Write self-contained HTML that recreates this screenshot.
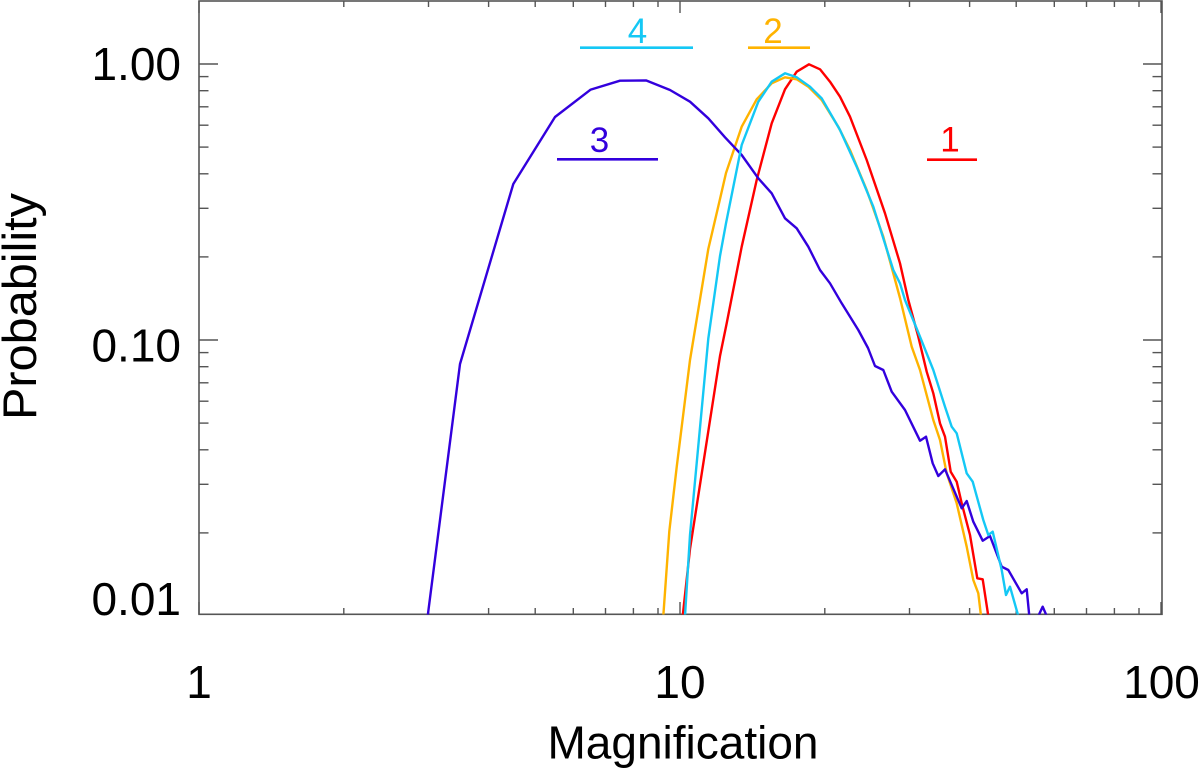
<!DOCTYPE html>
<html>
<head>
<meta charset="utf-8">
<style>
html,body{margin:0;padding:0;background:#fff;}
svg{display:block;}
text{font-family:"Liberation Sans",Arial,Helvetica,sans-serif;fill:#000;}
</style>
</head>
<body>
<svg width="1200" height="781" viewBox="0 0 1200 781" xmlns="http://www.w3.org/2000/svg">
<defs>
<clipPath id="pa"><rect x="199" y="1" width="963" height="613.5"/></clipPath>
</defs>
<rect width="1200" height="781" fill="#fff"/>

<!-- axes box -->
<g stroke="#555" stroke-width="1.6" fill="none">
<rect x="199" y="1" width="963" height="613.3"/>
</g>

<!-- x ticks (bottom and top) -->
<g stroke="#555" stroke-width="1.4" id="xt">
<!-- majors -->
<line x1="199" y1="614" x2="199" y2="602"/><line x1="680" y1="614" x2="680" y2="602"/><line x1="1161" y1="614" x2="1161" y2="602"/>
<line x1="199" y1="1" x2="199" y2="13"/><line x1="680" y1="1" x2="680" y2="13"/><line x1="1161" y1="1" x2="1161" y2="13"/>
<!-- minors decade 1 -->
<line x1="343.8" y1="614" x2="343.8" y2="608"/><line x1="428.5" y1="614" x2="428.5" y2="608"/><line x1="488.6" y1="614" x2="488.6" y2="608"/><line x1="535.2" y1="614" x2="535.2" y2="608"/><line x1="573.3" y1="614" x2="573.3" y2="608"/><line x1="605.5" y1="614" x2="605.5" y2="608"/><line x1="633.4" y1="614" x2="633.4" y2="608"/><line x1="658" y1="614" x2="658" y2="608"/>
<line x1="824.8" y1="614" x2="824.8" y2="608"/><line x1="909.5" y1="614" x2="909.5" y2="608"/><line x1="969.6" y1="614" x2="969.6" y2="608"/><line x1="1016.2" y1="614" x2="1016.2" y2="608"/><line x1="1054.3" y1="614" x2="1054.3" y2="608"/><line x1="1086.5" y1="614" x2="1086.5" y2="608"/><line x1="1114.4" y1="614" x2="1114.4" y2="608"/><line x1="1139" y1="614" x2="1139" y2="608"/>
<line x1="343.8" y1="1" x2="343.8" y2="7"/><line x1="428.5" y1="1" x2="428.5" y2="7"/><line x1="488.6" y1="1" x2="488.6" y2="7"/><line x1="535.2" y1="1" x2="535.2" y2="7"/><line x1="573.3" y1="1" x2="573.3" y2="7"/><line x1="605.5" y1="1" x2="605.5" y2="7"/><line x1="633.4" y1="1" x2="633.4" y2="7"/><line x1="658" y1="1" x2="658" y2="7"/>
<line x1="824.8" y1="1" x2="824.8" y2="7"/><line x1="909.5" y1="1" x2="909.5" y2="7"/><line x1="969.6" y1="1" x2="969.6" y2="7"/><line x1="1016.2" y1="1" x2="1016.2" y2="7"/><line x1="1054.3" y1="1" x2="1054.3" y2="7"/><line x1="1086.5" y1="1" x2="1086.5" y2="7"/><line x1="1114.4" y1="1" x2="1114.4" y2="7"/><line x1="1139" y1="1" x2="1139" y2="7"/>
</g>

<!-- y ticks -->
<g stroke="#555" stroke-width="1.4">
<line x1="199" y1="64" x2="218" y2="64"/><line x1="199" y1="340" x2="218" y2="340"/>
<line x1="1162" y1="64" x2="1143" y2="64"/><line x1="1162" y1="340" x2="1143" y2="340"/>
<!-- minors 0.2-0.9 -->
<line x1="199" y1="76.6" x2="208.5" y2="76.6"/><line x1="199" y1="90.7" x2="208.5" y2="90.7"/><line x1="199" y1="106.8" x2="208.5" y2="106.8"/><line x1="199" y1="125.2" x2="208.5" y2="125.2"/><line x1="199" y1="147.1" x2="208.5" y2="147.1"/><line x1="199" y1="173.8" x2="208.5" y2="173.8"/><line x1="199" y1="208.3" x2="208.5" y2="208.3"/><line x1="199" y1="256.9" x2="208.5" y2="256.9"/>
<line x1="199" y1="352.6" x2="208.5" y2="352.6"/><line x1="199" y1="366.7" x2="208.5" y2="366.7"/><line x1="199" y1="382.8" x2="208.5" y2="382.8"/><line x1="199" y1="401.2" x2="208.5" y2="401.2"/><line x1="199" y1="423.1" x2="208.5" y2="423.1"/><line x1="199" y1="449.8" x2="208.5" y2="449.8"/><line x1="199" y1="484.3" x2="208.5" y2="484.3"/><line x1="199" y1="532.9" x2="208.5" y2="532.9"/>
<line x1="1162" y1="76.6" x2="1152.5" y2="76.6"/><line x1="1162" y1="90.7" x2="1152.5" y2="90.7"/><line x1="1162" y1="106.8" x2="1152.5" y2="106.8"/><line x1="1162" y1="125.2" x2="1152.5" y2="125.2"/><line x1="1162" y1="147.1" x2="1152.5" y2="147.1"/><line x1="1162" y1="173.8" x2="1152.5" y2="173.8"/><line x1="1162" y1="208.3" x2="1152.5" y2="208.3"/><line x1="1162" y1="256.9" x2="1152.5" y2="256.9"/>
<line x1="1162" y1="352.6" x2="1152.5" y2="352.6"/><line x1="1162" y1="366.7" x2="1152.5" y2="366.7"/><line x1="1162" y1="382.8" x2="1152.5" y2="382.8"/><line x1="1162" y1="401.2" x2="1152.5" y2="401.2"/><line x1="1162" y1="423.1" x2="1152.5" y2="423.1"/><line x1="1162" y1="449.8" x2="1152.5" y2="449.8"/><line x1="1162" y1="484.3" x2="1152.5" y2="484.3"/><line x1="1162" y1="532.9" x2="1152.5" y2="532.9"/>
</g>

<!-- curves -->
<g clip-path="url(#pa)" fill="none" stroke-width="2.4" stroke-linejoin="round">
<polyline stroke="#ff0000" points="682.7,616 690,549 720,356 726.7,323.3 741.7,246.7 756.7,180 771.7,123.3 785,89.3 796.7,71.7 809,64.3 820,69.3 830,81.7 840,96.7 850,116.7 866.7,160 885,213.3 900,263.3 908.3,300 918.3,336.7 926.7,371.7 933.3,393.3 940,423.3 945,436.7 950.7,471.7 956.7,481.7 961.7,503.3 970,535 977.3,578.3 982.7,579.3 988.3,616"/>
<polyline stroke="#ffb300" points="663.3,616 669.3,531.4 676.7,467 690,360 708.3,249 720,199 726,173 741.7,126.7 756.7,99.3 771.7,83.3 785,77.3 796.7,79.3 808.3,86.7 821.7,100 838.3,126.7 850,150 866.7,190 883.3,236.7 900,298 911.7,346.7 920,370 933.3,420 940,440 946.7,473.3 956.7,503.3 966.7,546.7 973.3,580 978.3,593.3 981,616"/>
<polyline stroke="#3300dd" points="427.7,616 460,364 513.3,184 555,117 590.7,89.6 620,80.7 646,80.4 670,90 690,101.7 708.3,118.3 725,137.3 741.7,155 758.3,178.3 771.7,193.3 785,218.3 796.7,228.3 808.3,246.7 820,270 830,283.3 841.7,303.3 858.3,330 868,348 875,366 883.3,370 891.7,391.7 905,410 920,440.7 926,436.7 932.7,463.3 938.3,476 945,469.3 961.7,508.3 966.7,501 973.3,521.7 982.7,540.7 990,536 1001.7,566.7 1008.3,570 1021.7,593.3 1026.7,589.3 1029.3,616"/>
<polyline stroke="#3300dd" points="1038.3,616 1042.7,606.7 1046.7,616"/>
<polyline stroke="#14c8f5" points="685,616 690,535 708.3,338.6 720,256 726,223.3 741.7,145 758.3,101.7 771.7,81.7 785,73.3 796.7,77.3 810,86.7 821.7,98.3 840,130 856.7,166.7 873.3,206.7 893.3,270 900,283.3 905,300 920,336.7 933.3,370 945,406.7 951.7,426.7 956.7,433.3 966.7,473.3 972.7,481.7 983.3,520 988.3,535 992.7,531.7 1001.7,570 1006,595 1010,586.7 1018.3,616"/>
</g>

<!-- curve labels -->
<g stroke-width="2.6">
<line x1="580" y1="47.7" x2="693" y2="47.7" stroke="#14c8f5"/>
<line x1="748" y1="47.7" x2="810" y2="47.7" stroke="#ffb300"/>
<line x1="557" y1="159.3" x2="658" y2="159.3" stroke="#3300dd"/>
<line x1="927" y1="159.7" x2="977" y2="159.7" stroke="#ff0000"/>
</g>
<text x="637.5" y="43" font-size="35" text-anchor="middle" style="fill:#14c8f5">4</text>
<text x="773" y="43" font-size="35" text-anchor="middle" style="fill:#ffb300">2</text>
<text x="599.5" y="152" font-size="35" text-anchor="middle" style="fill:#3300dd">3</text>
<text x="950" y="151.7" font-size="35" text-anchor="middle" style="fill:#ff0000">1</text>

<!-- tick labels -->
<g font-size="46">
<text x="181" y="80" text-anchor="end">1.00</text>
<text x="181" y="361.7" text-anchor="end">0.10</text>
<text x="181" y="615" text-anchor="end">0.01</text>
<text x="199" y="698" text-anchor="middle">1</text>
<text x="680" y="698" text-anchor="middle">10</text>
<text x="1161.5" y="698" text-anchor="middle">100</text>
<text x="683" y="758.3" text-anchor="middle">Magnification</text>
</g>
<text transform="translate(36,306.5) rotate(-90)" font-size="47" text-anchor="middle" textLength="227" lengthAdjust="spacingAndGlyphs">Probability</text>
</svg>
</body>
</html>
